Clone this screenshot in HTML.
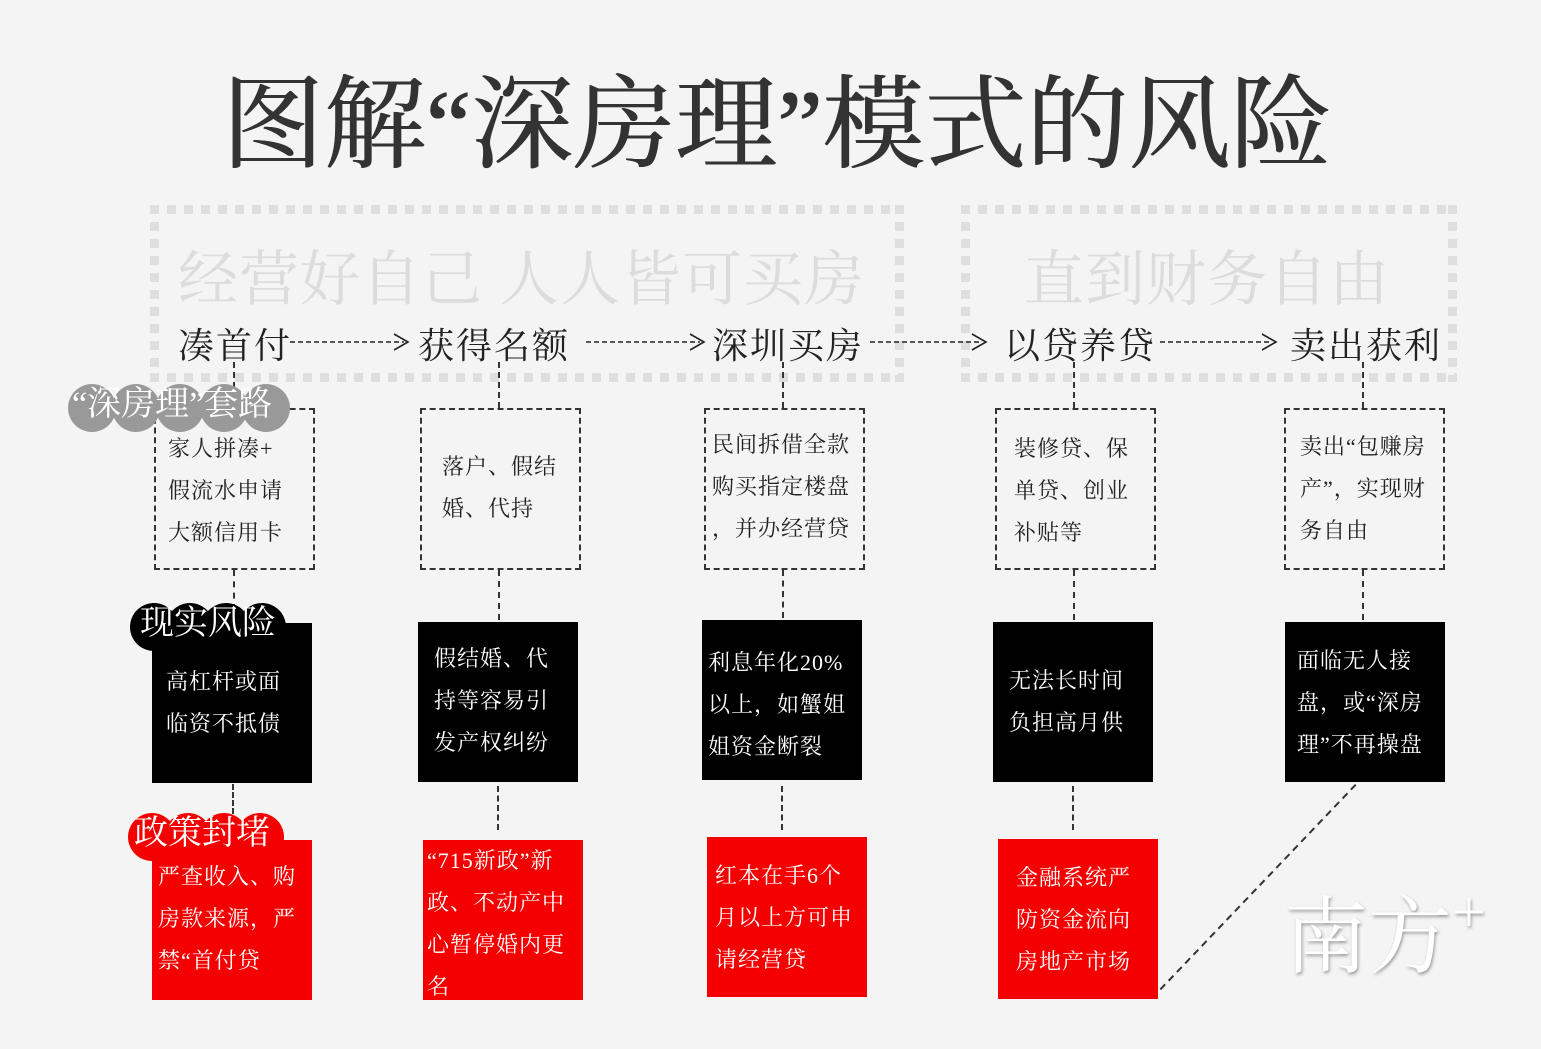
<!DOCTYPE html>
<html><head><meta charset="utf-8"><style>
body{margin:0;width:1541px;height:1049px;background:#f4f4f4;position:relative;overflow:hidden;font-family:"Liberation Serif","Noto Serif CJK SC",serif;}
.a{position:absolute;}
.t{white-space:nowrap;}
.dot{position:absolute;box-sizing:border-box;
background:
repeating-linear-gradient(90deg,#dedede 0 9px,transparent 9px 17px) top left/100% 9px no-repeat,
repeating-linear-gradient(90deg,#dedede 0 9px,transparent 9px 17px) bottom left/100% 9px no-repeat,
repeating-linear-gradient(180deg,#dedede 0 9px,transparent 9px 17px) top left/9px 100% no-repeat,
repeating-linear-gradient(180deg,#dedede 0 9px,transparent 9px 17px) top right/9px 100% no-repeat;}
.db{position:absolute;border:2px dashed #333;box-sizing:border-box;}
.vl{position:absolute;border-left:2px dashed #333;width:0;}
.box{position:absolute;width:160px;height:160px;box-sizing:border-box;font-size:22px;line-height:42px;color:#fff;padding:0 10px;letter-spacing:1px;}
.blk{background:#000;}
.red{background:#f40000;}
.dtx{font-size:22px;line-height:42px;color:#222;letter-spacing:1px;}
.step{position:absolute;font-size:36px;color:#222;white-space:nowrap;top:318px;letter-spacing:2px;}
.badge{position:absolute;height:46px;font-size:34px;line-height:44px;white-space:nowrap;}
.c{position:absolute;border-radius:50%;width:48px;height:48px;top:-1px;}
.bt{position:absolute;left:10px;top:-2px;color:#fff;}
</style></head><body>
<div class="a t" style="left:222px;top:44px;font-size:102px;color:#333;text-shadow:0.6px 0 0 #333,-0.6px 0 0 #333;">图解“深房理”模式的风险</div>

<div class="dot" style="left:150px;top:205px;width:754px;height:177px;"></div>
<div class="dot" style="left:961px;top:205px;width:496px;height:177px;"></div>
<div class="a t" style="left:178px;top:232px;font-size:60px;color:#dcdcdc;letter-spacing:1px;">经营好自己 人人皆可买房</div>
<div class="a t" style="left:1024px;top:232px;font-size:60px;color:#dcdcdc;letter-spacing:1px;">直到财务自由</div>

<div class="step" style="left:178px;">凑首付</div>
<div class="step" style="left:418px;">获得名额</div>
<div class="step" style="left:712px;">深圳买房</div>
<div class="step" style="left:1004px;">以贷养贷</div>
<div class="step" style="left:1290px;">卖出获利</div>
<svg class="a" style="left:0;top:0;" width="1541" height="1049">
<g stroke="#222" stroke-width="1.6" fill="none">
<line x1="290" y1="342" x2="404" y2="342" stroke-dasharray="5,3"/><polyline points="394,334 408,342 394,350"/>
<line x1="586" y1="342" x2="700" y2="342" stroke-dasharray="5,3"/><polyline points="690,334 704,342 690,350"/>
<line x1="870" y1="342" x2="982" y2="342" stroke-dasharray="5,3"/><polyline points="972,334 986,342 972,350"/>
<line x1="1160" y1="342" x2="1272" y2="342" stroke-dasharray="5,3"/><polyline points="1262,334 1276,342 1262,350"/>
</g>
<line x1="1364" y1="776" x2="1156" y2="994" stroke="#333" stroke-width="2" stroke-dasharray="7,5"/>
</svg>

<div class="vl" style="left:233px;top:362px;height:46px;"></div>
<div class="vl" style="left:498px;top:362px;height:46px;"></div>
<div class="vl" style="left:782px;top:362px;height:46px;"></div>
<div class="vl" style="left:1073px;top:362px;height:46px;"></div>
<div class="vl" style="left:1362px;top:362px;height:46px;"></div>

<div class="vl" style="left:233px;top:570px;height:40px;"></div>
<div class="vl" style="left:498px;top:570px;height:50px;"></div>
<div class="vl" style="left:782px;top:570px;height:48px;"></div>
<div class="vl" style="left:1073px;top:570px;height:50px;"></div>
<div class="vl" style="left:1362px;top:570px;height:50px;"></div>

<div class="vl" style="left:232px;top:784px;height:30px;"></div>
<div class="vl" style="left:497px;top:786px;height:44px;"></div>
<div class="vl" style="left:781px;top:786px;height:44px;"></div>
<div class="vl" style="left:1072px;top:786px;height:44px;"></div>

<div class="db" style="left:154px;top:408px;width:161px;height:162px;"></div>
<div class="a dtx t" style="left:168px;top:428px;">家人拼凑+<br>假流水申请<br>大额信用卡</div>
<div class="db" style="left:420px;top:408px;width:161px;height:162px;"></div>
<div class="a dtx t" style="left:442px;top:446px;">落户、假结<br>婚、代持</div>
<div class="db" style="left:704px;top:408px;width:161px;height:162px;"></div>
<div class="a dtx t" style="left:712px;top:424px;">民间拆借全款<br>购买指定楼盘<br>，并办经营贷</div>
<div class="db" style="left:995px;top:408px;width:161px;height:162px;"></div>
<div class="a dtx t" style="left:1014px;top:428px;">装修贷、保<br>单贷、创业<br>补贴等</div>
<div class="db" style="left:1284px;top:408px;width:161px;height:162px;"></div>
<div class="a dtx t" style="left:1300px;top:426px;">卖出“包赚房<br>产”，实现财<br>务自由</div>

<div class="box blk" style="left:152px;top:623px;padding:38px 0 0 14px;">高杠杆或面<br>临资不抵债</div>
<div class="box blk" style="left:418px;top:622px;padding:16px 0 0 16px;">假结婚、代<br>持等容易引<br>发产权纠纷</div>
<div class="box blk" style="left:702px;top:620px;padding:22px 0 0 6px;">利息年化20%<br>以上，如蟹姐<br>姐资金断裂</div>
<div class="box blk" style="left:993px;top:622px;padding:38px 0 0 16px;">无法长时间<br>负担高月供</div>
<div class="box blk" style="left:1285px;top:622px;padding:18px 0 0 12px;">面临无人接<br>盘，或“深房<br>理”不再操盘</div>

<div class="box red" style="left:152px;top:840px;padding:16px 0 0 6px;">严查收入、购<br>房款来源，严<br>禁“首付贷</div>
<div class="box red" style="left:423px;top:840px;padding:0 0 0 4px;">“715新政”新<br>政、不动产中<br>心暂停婚内更<br>名</div>
<div class="box red" style="left:707px;top:837px;padding:18px 0 0 8px;">红本在手6个<br>月以上方可申<br>请经营贷</div>
<div class="box red" style="left:998px;top:839px;padding:18px 0 0 18px;">金融系统严<br>防资金流向<br>房地产市场</div>

<div class="badge" style="left:68px;top:385px;width:222px;">
<div class="c" style="left:0;background:#999"></div><div class="c" style="left:44px;background:#999"></div><div class="c" style="left:88px;background:#999"></div><div class="c" style="left:132px;background:#999"></div><div class="c" style="left:174px;background:#999"></div>
<div class="bt" style="left:4px;">“深房理”套路</div></div>
<div class="badge" style="left:130px;top:604px;width:156px;">
<div class="c" style="left:0;background:#000"></div><div class="c" style="left:36px;background:#000"></div><div class="c" style="left:72px;background:#000"></div><div class="c" style="left:108px;background:#000"></div>
<div class="bt">现实风险</div></div>
<div class="badge" style="left:128px;top:814px;width:158px;">
<div class="c" style="left:0;background:#f40000"></div><div class="c" style="left:36px;background:#f40000"></div><div class="c" style="left:72px;background:#f40000"></div><div class="c" style="left:108px;background:#f40000"></div>
<div class="bt" style="left:6px;">政策封堵</div></div>

<div class="a t" style="left:1284px;top:870px;font-size:84px;color:#fff;text-shadow:1px 2px 3px #999;">南方<span style="font-size:60px;position:relative;top:-34px;">+</span></div>
</body></html>
